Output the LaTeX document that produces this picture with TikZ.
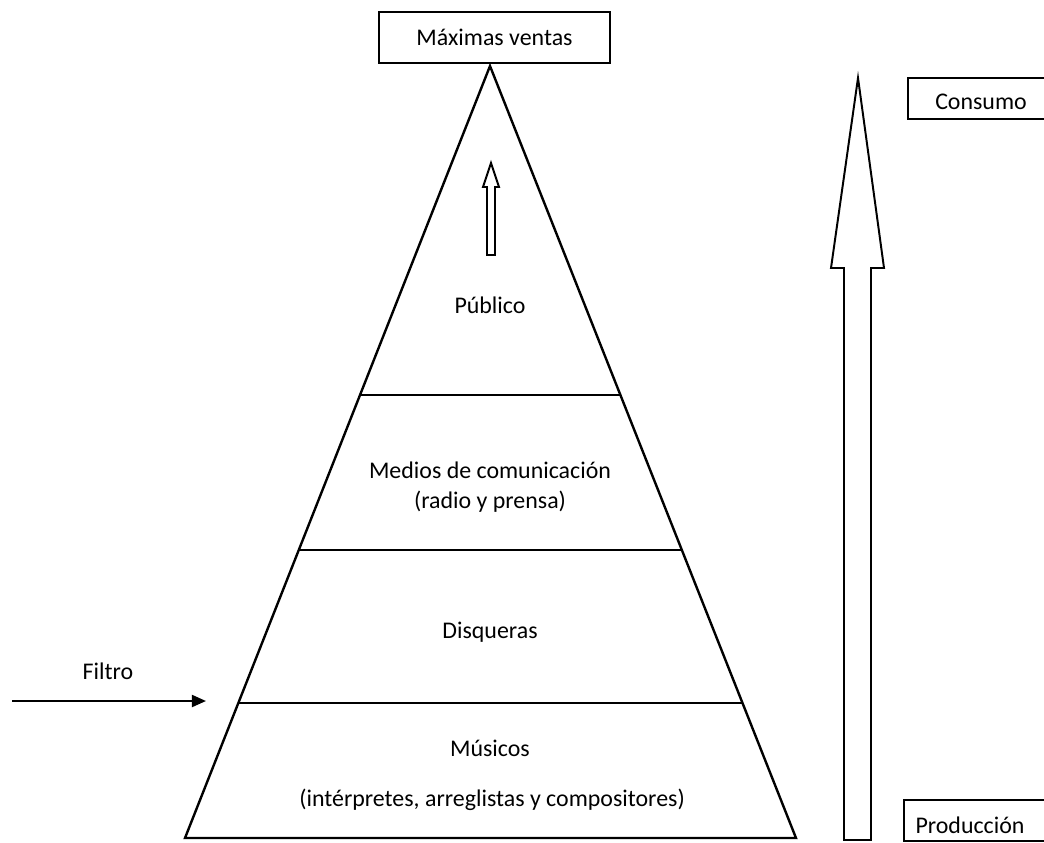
\documentclass[tikz,border=0pt]{standalone}
\usepackage{fontspec}
\setmainfont{Carlito}
\usetikzlibrary{arrows.meta}
\tikzset{
  pyr/.style={draw, line width=1.7pt, line join=miter},
  hollow/.style={draw, line width=1.4pt, line join=miter},
  labelbox/.style={draw, line width=1.4pt, inner sep=0pt},
  lbl/.style={font=\fontsize{17}{20}\selectfont, inner sep=0pt}
}
\begin{document}
\begin{tikzpicture}[x=0.025cm, y=-0.025cm]
  \useasboundingbox (0,0) rectangle (1044,842);
  % pyramid
  \coordinate (apex) at (490,66);
  \coordinate (bl) at (185,838);
  \coordinate (br) at (796,838);
  \draw[pyr] (apex) -- (bl) -- (br) -- cycle;
  \draw[pyr] (360,395) -- (621,395);
  \draw[pyr] (299,550) -- (681,550);
  \draw[pyr] (238,703) -- (742,703);
  % levels
  \node[lbl] (publico) at (490,305) {Público};
  \node[lbl] (medios) at (490,470) {Medios de comunicación};
  \node[lbl] (radio) at (490,502) {(radio y prensa)};
  \node[lbl] (disqueras) at (490,632) {Disqueras};
  \node[lbl] (musicos) at (490,748) {Músicos};
  \node[lbl] (interpretes) at (492,800) {(intérpretes, arreglistas y compositores)};
  % small hollow arrow inside the top
  \draw[hollow] (491,163) -- (499,187) -- (495,187) -- (495,255) -- (487,255) -- (487,187) -- (483,187) -- cycle;
  % top box
  \node[labelbox, minimum width=5.775cm, minimum height=1.275cm] (ventas) at (494.5,37.5) {};
  \node[lbl] at (ventas) {Máximas ventas};
  % big hollow arrow
  \draw[hollow] (858,78) -- (884,268) -- (871,268) -- (871,840) -- (844,840) -- (844,268) -- (831,268) -- cycle;
  % side boxes
  \draw[labelbox] (908,78) rectangle (1050,119);
  \node[lbl] (consumo) at (981,102) {Consumo};
  \draw[labelbox] (904,800) rectangle (1050,841);
  \node[lbl] (produccion) at (970,825) {Producción};
  % filter
  \coordinate (filtroA) at (12,701);
  \coordinate (filtroB) at (206,701);
  \draw[line width=1.5pt, -{Triangle[length=10pt, width=8.5pt]}] (filtroA) -- (filtroB);
  \node[lbl] (filtro) at (108,671) {Filtro};
\end{tikzpicture}
\end{document}
